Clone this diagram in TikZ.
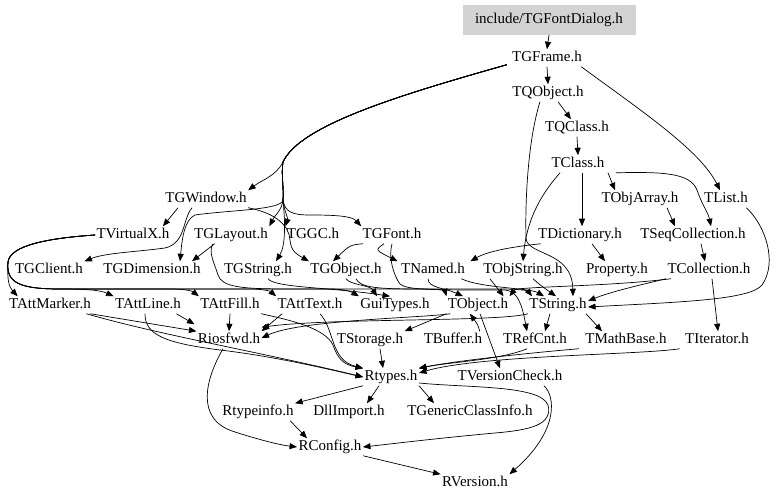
\documentclass[tikz,border=0pt]{standalone}
\usepackage{fontspec}
\setmainfont{Liberation Serif}
\usetikzlibrary{arrows.meta,calc}
\definecolor{boxgray}{RGB}{211,211,211}
\begin{document}
\begin{tikzpicture}[x=1pt,y=-1pt,
  hdr/.style={font=\fontsize{15}{18}\selectfont, inner sep=1.5pt, text height=11pt, text depth=3.5pt, outer sep=0pt},
  root/.style={hdr, fill=boxgray, minimum width=173pt, minimum height=30pt},
  dep/.style={draw=black, line width=0.7pt, -{Triangle[length=7.5pt,width=6pt]}}]
\path[use as bounding box] (0,0) rectangle (779,502);
% nodes
\node[root] (dlg) at (549,20) {include/TGFontDialog.h};
\node[hdr] (frame) at (547,58) {TGFrame.h};
\node[hdr] (tqobj) at (548,93) {TQObject.h};
\node[hdr] (tqclass) at (577,128) {TQClass.h};
\node[hdr] (tclass) at (578,164) {TClass.h};
\node[hdr] (tgwin) at (206,199) {TGWindow.h};
\node[hdr] (tobjarr) at (640,199) {TObjArray.h};
\node[hdr] (tlist) at (726,199) {TList.h};
\node[hdr] (tvx) at (133,235) {TVirtualX.h};
\node[hdr] (tglay) at (231,235) {TGLayout.h};
\node[hdr] (tggc) at (313,235) {TGGC.h};
\node[hdr] (tgfont) at (392,235) {TGFont.h};
\node[hdr] (tdict) at (580,235) {TDictionary.h};
\node[hdr] (tseq) at (693,235) {TSeqCollection.h};
\node[hdr] (tgcli) at (49,270) {TGClient.h};
\node[hdr] (tgdim) at (152,270) {TGDimension.h};
\node[hdr] (tgstr) at (258,270) {TGString.h};
\node[hdr] (tgobj) at (346,270) {TGObject.h};
\node[hdr] (tnamed) at (433,270) {TNamed.h};
\node[hdr] (tobjstr) at (523,270) {TObjString.h};
\node[hdr] (prop) at (617,270) {Property.h};
\node[hdr] (tcoll) at (709,270) {TCollection.h};
\node[hdr] (tattm) at (50,305) {TAttMarker.h};
\node[hdr] (tattl) at (148,305) {TAttLine.h};
\node[hdr] (tattf) at (230,305) {TAttFill.h};
\node[hdr] (tattt) at (310,305) {TAttText.h};
\node[hdr] (gui) at (395,305) {GuiTypes.h};
\node[hdr] (tobj) at (478,305) {TObject.h};
\node[hdr] (tstr) at (558,305) {TString.h};
\node[hdr] (rios) at (229,340) {Riosfwd.h};
\node[hdr] (tstor) at (370,340) {TStorage.h};
\node[hdr] (tbuf) at (453,340) {TBuffer.h};
\node[hdr] (trefc) at (535,340) {TRefCnt.h};
\node[hdr] (tmath) at (626,340) {TMathBase.h};
\node[hdr] (titer) at (717,340) {TIterator.h};
\node[hdr] (rtypes) at (391,377) {Rtypes.h};
\node[hdr] (tver) at (510,377) {TVersionCheck.h};
\node[hdr] (rtinfo) at (258,412) {Rtypeinfo.h};
\node[hdr] (dll) at (349,412) {DllImport.h};
\node[hdr] (tgen) at (470,412) {TGenericClassInfo.h};
\node[hdr] (rconf) at (330,447) {RConfig.h};
\node[hdr] (rver) at (475,483) {RVersion.h};
% top chain
\draw[dep] (dlg.south) -- (frame.north);
\draw[dep] (frame.south) -- (tqobj.north);
\draw[dep] ($(tqobj.south)+(10,0)$) -- ($(tqclass.north)+(-6,0)$);
\draw[dep] (tqclass.south) -- (tclass.north);
\draw[dep] ($(frame.south east)+(-2,0)$) .. controls (640,110) and (700,150) .. ($(tlist.north)+(-6,0)$);
% TGFrame to the GUI headers
\draw[dep] ($(frame.south west)+(-4,-2)$) .. controls (400,95) and (300,125) .. (283,162) .. controls (276,176) and (262,180) .. (tgwin.north east);
\draw[dep] ($(frame.south west)+(-4,-2)$) .. controls (400,95) and (300,125) .. (283,162) .. controls (281,175) and (284,188) .. (283,200) .. controls (282,210) and (275,215) .. (tglay.north east);
\draw[dep] ($(frame.south west)+(-4,-2)$) .. controls (400,95) and (300,125) .. (283,162) .. controls (281,175) and (284,188) .. (283,200) .. controls (284,210) and (288,218) .. (tggc.north west);
\draw[dep] ($(frame.south west)+(-4,-2)$) .. controls (400,95) and (300,125) .. (283,162) .. controls (281,175) and (284,188) .. (283,200) .. controls (285,212) and (292,215) .. (310,215) .. controls (335,215) and (352,216) .. (tgfont.north west);
\draw[dep] ($(frame.south west)+(-4,-2)$) .. controls (400,95) and (300,125) .. (283,162) .. controls (281,175) and (284,188) .. (283,200) .. controls (282,210) and (230,210) .. (195,215) .. controls (184,220) and (182,240) .. ($(tgdim.north)+(28,0)$);
\draw[dep] ($(frame.south west)+(-4,-2)$) .. controls (400,95) and (300,125) .. (283,162) .. controls (281,175) and (284,188) .. (283,200) .. controls (285,220) and (286,245) .. ($(tgstr.north)+(18,0)$);
% TGWindow
\draw[dep] ($(tgwin.south)+(-28,0)$) -- ($(tvx.north east)+(-8,0)$);
\draw[dep] ($(tgwin.south)+(-14,0)$) .. controls (182,220) and (186,243) .. (165,248) .. controls (135,252) and (105,253) .. (tgcli.north east);
\draw[dep] (tgwin.south east) .. controls (275,213) and (289,225) .. (290,240) .. controls (291,252) and (298,255) .. (tgobj.north west);
% TGLayout, TGFont
\draw[dep] ($(tglay.south west)+(22,0)$) -- ($(tgdim.north east)+(-10,0)$);
\draw[dep] ($(tglay.south)+(-18,0)$) .. controls (208,252) and (214,262) .. (218,275) .. controls (222,287) and (240,289) .. (290,289) -- (500,289) .. controls (520,289) and (528,291) .. ($(tstr.north west)+(4,0)$);
\draw[dep] ($(tgfont.south west)+(2,0)$) .. controls (350,245) .. ($(tgobj.north)+(-13,0)$);
\draw[dep] ($(tgfont.south)+(-8,0)$) .. controls (375,250) .. ($(tnamed.north west)+(-2,0)$);
\draw[dep] (tgfont.south) .. controls (388,258) and (394,276) .. (400,284) .. controls (407,290) and (430,290) .. (505,290) .. controls (518,291) and (522,305) .. ($(trefc.north)+(-8,0)$);
% TVirtualX
\draw[dep] (tvx.west) .. controls (50,238) and (10,245) .. (8,262) .. controls (7,280) and (9,287) .. ($(tattm.north west)+(10,0)$);
\draw[dep] (tvx.west) .. controls (50,238) and (10,245) .. (8,262) .. controls (6,282) and (18,289) .. (60,289) .. controls (85,289) and (100,290) .. (tattl.north west);
\draw[dep] (tvx.west) .. controls (50,238) and (10,245) .. (8,262) .. controls (6,282) and (18,289) .. (60,289) -- (170,289) .. controls (185,289) and (192,291) .. (tattf.north west);
\draw[dep] (tvx.west) .. controls (50,238) and (10,245) .. (8,262) .. controls (6,282) and (18,289) .. (60,289) -- (250,289) .. controls (262,289) and (270,291) .. (tattt.north west);
\draw[dep] (tvx.west) .. controls (50,238) and (10,245) .. (8,262) .. controls (6,282) and (18,289) .. (60,289) -- (330,289) .. controls (342,289) and (350,291) .. (gui.north west);
% rank 269 to rank 304
\draw[dep] ($(tgobj.south)+(10,0)$) .. controls (360,288) and (380,289) .. (420,289) .. controls (440,289) and (445,291) .. (tobj.north west);
\draw[dep] (tgobj.south) .. controls (350,285) and (370,285) .. ($(gui.north)+(-18,0)$);
\draw[dep] ($(tgstr.south)+(10,0)$) .. controls (275,288) and (330,287) .. ($(gui.north)+(-5,0)$);
\draw[dep] ($(tnamed.south)+(-5,0)$) .. controls (428,288) and (445,288) .. ($(tobj.north)+(-15,0)$);
\draw[dep] ($(tnamed.south east)+(-5,0)$) .. controls (480,288) and (530,288) .. ($(tstr.north)+(-14,0)$);
\draw[dep] ($(tobjstr.south west)+(8,0)$) .. controls (495,285) .. ($(tobj.north east)+(-6,0)$);
\draw[dep] ($(tobjstr.south)+(10,0)$) .. controls (540,285) .. ($(tstr.north)+(-2,0)$);
\draw[dep] ($(tcoll.south west)+(5,0)$) .. controls (620,285) and (560,286) .. (530,288) .. controls (515,289) .. (tobj.north east);
\draw[dep] (tcoll.south west) .. controls (640,285) and (610,292) .. ($(tstr.east)+(0,-4)$);
\draw[dep] ($(tlist.south east)+(-3,0)$) .. controls (765,225) and (778,262) .. (762,285) .. controls (750,300) and (680,302) .. ($(tstr.east)+(0,2)$);
\draw[dep] ($(tcoll.south)+(3,0)$) -- ($(titer.north)+(1,0)$);
\draw[dep] ($(tseq.south)+(8,0)$) -- ($(tcoll.north)+(-4,0)$);
\draw[dep] ($(tobjarr.south)+(27,0)$) -- ($(tseq.north)+(-18,0)$);
% TClass, TQObject, TDictionary
\draw[dep] ($(tclass.south east)+(2,0)$) -- ($(tobjarr.north)+(-25,0)$);
\draw[dep] ($(tclass.south east)+(10,0)$) .. controls (660,172) and (690,172) .. (697,190) .. controls (702,205) and (708,212) .. ($(tseq.north)+(18,0)$);
\draw[dep] ($(tclass.south)+(4,0)$) -- ($(tdict.north)+(2,0)$);
\draw[dep] ($(tdict.south)+(12,0)$) -- ($(prop.north)+(-12,0)$);
\draw[dep] ($(tdict.south west)+(4,0)$) .. controls (520,246) and (490,250) .. ($(tnamed.north east)+(4,0)$);
\draw[dep] ($(tqobj.south)+(-8,0)$) .. controls (528,140) and (525,200) .. (526,238) .. controls (527,256) and (572,250) .. ($(tstr.north)+(15,0)$);
\draw[dep] ($(tclass.south west)+(10,0)$) .. controls (545,190) and (527,215) .. (tobjstr.north);
% rank 304 to lower ranks
\draw[dep] ($(tattm.south east)+(-2,0)$) -- (rios.north west);
\draw[dep] ($(tattm.south east)+(-6,0)$) .. controls (160,335) and (260,352) .. (rtypes.west);
\draw[dep] ($(tattl.south east)+(-6,0)$) -- ($(rios.north west)+(-2,-7)$);
\draw[dep] ($(tattl.south)+(-3,0)$) .. controls (145,335) and (165,343) .. (220,350) .. controls (280,357) and (340,372) .. (rtypes.west);
\draw[dep] (tattf.south) -- (rios.north);
\draw[dep] ($(tattt.south west)+(6,0)$) -- (rios.north east);
\draw[dep] ($(tattt.south)+(10,0)$) .. controls (335,330) and (330,360) .. (rtypes.north west);
\draw[dep] (tattf.south east) .. controls (290,320) and (325,328) .. (333,345) .. controls (338,360) and (345,365) .. (rtypes.north west);
\draw[dep] ($(tobj.south west)+(4,0)$) .. controls (420,318) and (300,320) .. ($(rios.east)+(0,-2)$);
\draw[dep] (tstr.south west) .. controls (500,322) and (330,318) .. ($(rios.north east)+(0,-4)$);
\draw[dep] ($(tbuf.north east)+(-4,0)$) .. controls (478,325) .. ($(tobj.south)+(-8,0)$);
\draw[dep] (tobj.south west) -- (tstor.north east);
\draw[dep] ($(tobj.south)+(2,0)$) -- ($(tver.north)+(-10,0)$);
\draw[dep] ($(tstr.south)+(-8,0)$) -- ($(trefc.north)+(10,0)$);
\draw[dep] ($(tstr.south east)+(-2,0)$) -- ($(tmath.north)+(-24,0)$);
\draw[dep] ($(tstor.south)+(10,0)$) -- ($(rtypes.north)+(-8,0)$);
\draw[dep] ($(trefc.south)+(-8,0)$) .. controls (500,360) and (450,362) .. (rtypes.north east);
\draw[dep] ($(tmath.south west)+(-5,0)$) .. controls (540,352) and (460,360) .. (rtypes.north east);
\draw[dep] ($(titer.south west)+(-4,0)$) .. controls (640,355) and (480,355) .. ($(rtypes.east)+(0,-4)$);
% Rtypes and below
\draw[dep] (rtypes.south west) -- (rtinfo.north east);
\draw[dep] ($(rtypes.south)+(-12,0)$) -- ($(dll.north)+(18,0)$);
\draw[dep] (rtypes.south east) -- ($(tgen.north)+(-36,0)$);
\draw[dep] ($(rtypes.east)+(0,6)$) .. controls (470,388) and (540,385) .. (548,405) .. controls (553,425) and (530,430) .. (495,433) .. controls (440,438) and (390,444) .. (rconf.east);
\draw[dep] ($(tver.south east)+(-20,0)$) .. controls (555,395) and (560,430) .. (rver.north east);
\draw[dep] ($(rtinfo.south east)+(-5,0)$) -- ($(rconf.north west)+(10,0)$);
\draw[dep] ($(rios.south)+(-6,0)$) .. controls (205,380) and (195,420) .. (235,432) .. controls (260,440) and (280,445) .. (rconf.west);
\draw[dep] (rconf.south east) -- (rver.north west);
\end{tikzpicture}
\end{document}
